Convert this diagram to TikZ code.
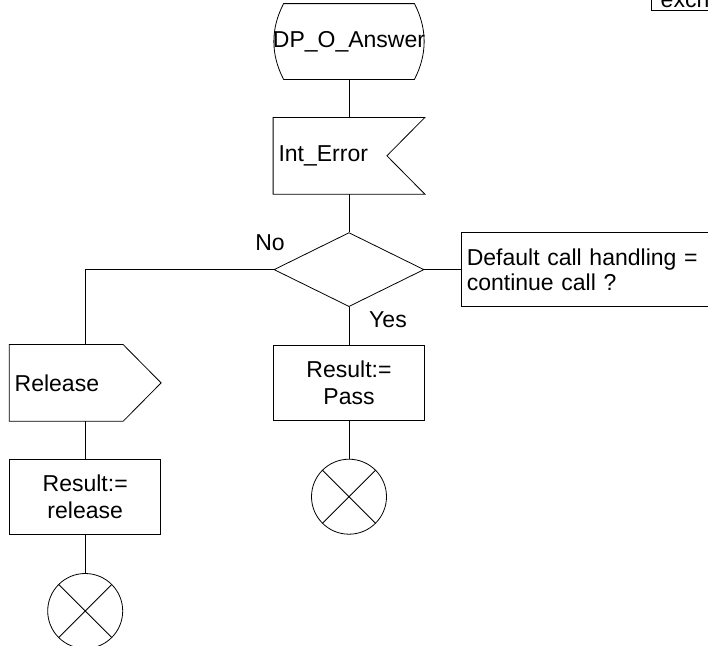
\documentclass[tikz,border=0pt]{standalone}
\usepackage{fontspec}
\setmainfont{Liberation Sans}
\usetikzlibrary{shapes.geometric,positioning}
\tikzset{
  basebox/.style={rectangle,draw=black,line width=0.8pt,font=\fontsize{23}{27}\selectfont,inner sep=0pt},
  startsym/.style={basebox,draw=none,minimum width=130pt,minimum height=75pt},
  insig/.style={basebox,draw=none,minimum height=76pt,text width=141pt,inner xsep=5pt,align=left},
  outsig/.style={insig},
  taskbox/.style={basebox,minimum width=151pt,minimum height=75pt,align=center},
  decbox/.style={diamond,draw=black,line width=0.8pt,minimum width=150pt,minimum height=74pt,inner sep=0pt},
  qbox/.style={basebox,minimum height=74pt,text width=250pt,inner xsep=5pt,align=left,font=\fontsize{23}{25}\selectfont},
  stopsym/.style={circle,draw=black,line width=0.8pt,minimum size=75pt,inner sep=0pt,
    path picture={\draw[line width=0.8pt] (path picture bounding box.north west) -- (path picture bounding box.south east)
      (path picture bounding box.south west) -- (path picture bounding box.north east);}},
  lbl/.style={font=\fontsize{23}{27}\selectfont,inner sep=0pt},
  flow/.style={line width=0.8pt,draw=black},
  shapeline/.style={line width=0.8pt,draw=black,line join=miter}
}
\begin{document}
\begin{tikzpicture}[x=1pt,y=-1pt,node distance=38pt]
  \useasboundingbox (0,0) rectangle (708,645);
  \clip (0,0) rectangle (708,645);

  %% main column
  \node[startsym] (start) at (349,41.5) {\makebox[0pt]{DP\_O\_Answer}};
  \node[insig,below=of start] (interr) {Int\_Error};
  \node[decbox,below=of interr] (dec) {};
  \node[qbox,right=37pt of dec] (quest) {Default call handling =\\continue call ?};
  \node[taskbox,below=of dec] (pass) {Result:=\\Pass};
  \node[stopsym,below=of pass] (stopA) {};

  %% release branch
  \node[outsig,left=112pt of pass] (rel) {Release};
  \node[taskbox,below=of rel] (relres) {Result:=\\release};
  \node[stopsym,below=of relres] (stopB) {};

  %% cut-off comment box, top right
  \node[basebox,anchor=south west,minimum width=80pt,inner xsep=4pt,inner ysep=2.5pt,align=left] (exch) at (651,10.5) {excha};

  %% outlines of the SDL symbols
  \draw[shapeline] (start.north west) -- (start.north east) .. controls +(13,25) and +(13,-25) .. (start.south east)
    -- (start.south west) .. controls +(-13,-25) and +(-13,25) .. (start.north west) -- cycle;
  \draw[shapeline] (interr.north west) -- (interr.north east) -- ([xshift=-38pt]interr.east)
    -- (interr.south east) -- (interr.south west) -- cycle;
  \draw[shapeline] (rel.north west) -- ([xshift=-38pt]rel.north east) -- (rel.east)
    -- ([xshift=-38pt]rel.south east) -- (rel.south west) -- cycle;

  %% connectors
  \draw[flow] (start.south) -- (interr.north);
  \draw[flow] (interr.south) -- (dec.north);
  \draw[flow] (dec.east) -- (quest.west);
  \draw[flow] (dec.west) -| (rel.north);
  \draw[flow] (dec.south) -- (pass.north);
  \draw[flow] (pass.south) -- (stopA.north);
  \draw[flow] (rel.south) -- (relres.north);
  \draw[flow] (relres.south) -- (stopB.north);

  \node[lbl] (no) at (270,243) {No};
  \node[lbl] (yes) at (388,320) {Yes};
\end{tikzpicture}
\end{document}
